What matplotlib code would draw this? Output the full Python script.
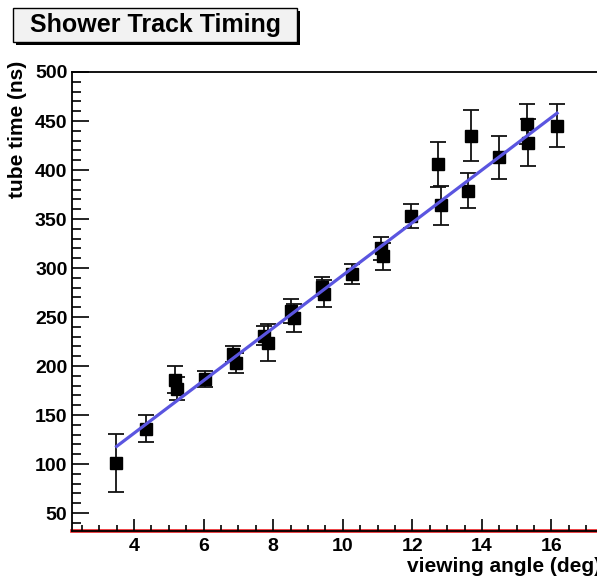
import numpy as np
import matplotlib
matplotlib.use('Agg')
import matplotlib.pyplot as plt
from matplotlib.patches import Rectangle
from matplotlib.ticker import MultipleLocator

plt.rcParams['font.family'] = ['Liberation Sans', 'DejaVu Sans']
plt.rcParams['font.weight'] = 'bold'

# ─────────────────────────────────────────────────────────────────────────────
# Measured tube times vs viewing angle
# ─────────────────────────────────────────────────────────────────────────────

angle = [3.48, 4.34, 5.18, 5.25, 6.04, 6.85, 6.92, 7.75, 7.85, 8.50, 8.60,
         9.40, 9.45, 10.28, 11.10, 11.15, 11.96, 12.74, 12.82, 13.60, 13.70,
         14.49, 15.30, 15.33, 16.15]
tube_time = [101, 136, 186, 177, 187, 212, 203, 231, 224, 256, 249,
             281, 274, 294, 320, 312, 353, 406, 364, 379, 435,
             413, 447, 428, 445]
time_err = [30, 14, 14, 12, 8, 8, 10, 10, 19, 12, 14,
            10, 14, 10, 12, 14, 12, 23, 20, 18, 26,
            22, 20, 24, 22]

# linear fit end points
fit_angle = [3.50, 16.16]
fit_time = [118, 458]

x_ticks = [4, 6, 8, 10, 12, 14, 16]
y_ticks = [50, 100, 150, 200, 250, 300, 350, 400, 450, 500]

W, H = 597, 579
fig = plt.figure(figsize=(W / 100, H / 100), dpi=100)
ax = fig.add_axes([72.3 / W, 1 - 530.7 / H, 1.01 - 72.3 / W, (530.7 - 72.0) / H])

ax.errorbar(angle, tube_time, yerr=time_err, fmt='s', color='black',
            ecolor='#111111', elinewidth=1.3, capsize=5.5, capthick=1.3,
            markersize=9, zorder=3)
ax.plot(fit_angle, fit_time, color='#5a55e0', linewidth=2.3, zorder=4)

ax.set_xlim(2.227, 17.48)
ax.set_ylim(32, 500)
ax.axhline(32, color='#e8191c', linewidth=2.6, zorder=1, clip_on=False)

ax.set_xticks(x_ticks)
ax.set_yticks(y_ticks)
ax.xaxis.set_minor_locator(MultipleLocator(0.5))
ax.yaxis.set_minor_locator(MultipleLocator(10))
ax.tick_params(axis='both', which='both', direction='in', width=1.2,
               labelsize=14, color='black')
ax.tick_params(axis='x', which='major', length=8.6, pad=5)
ax.tick_params(axis='x', which='minor', length=4.3)
ax.tick_params(axis='y', which='major', length=12, pad=3.5)
ax.tick_params(axis='y', which='minor', length=6.5)
for lab in ax.get_xticklabels() + ax.get_yticklabels():
    lab.set_fontweight('bold')

for side in ['left', 'top', 'bottom']:
    ax.spines[side].set_linewidth(1.3)
ax.spines['right'].set_visible(False)

fig.text(18 / W, 1 - 61 / H, 'tube time (ns)', rotation=90, ha='center',
         va='top', fontsize=15, fontweight='bold')
fig.text(601 / W, 1 - 566 / H, 'viewing angle (deg)', ha='right',
         va='center', fontsize=15, fontweight='bold')

# title box with drop shadow
bx0, by0, bx1, by1 = 13.3, 8.3, 296.7, 41.7
fig.patches.append(Rectangle(((bx0 + 3) / W, 1 - (by1 + 3) / H),
                             (bx1 - bx0) / W, (by1 - by0) / H,
                             transform=fig.transFigure, facecolor='black',
                             edgecolor='none', zorder=1))
fig.patches.append(Rectangle((bx0 / W, 1 - by1 / H),
                             (bx1 - bx0) / W, (by1 - by0) / H,
                             transform=fig.transFigure, facecolor='#f2f2f2',
                             edgecolor='black', linewidth=1.0, zorder=2))
fig.text((bx0 + bx1) / 2 / W, 1 - 25 / H, 'Shower Track Timing',
         ha='center', va='center', fontsize=18, fontweight='bold', zorder=3)

fig.savefig('out.png', dpi=100)
